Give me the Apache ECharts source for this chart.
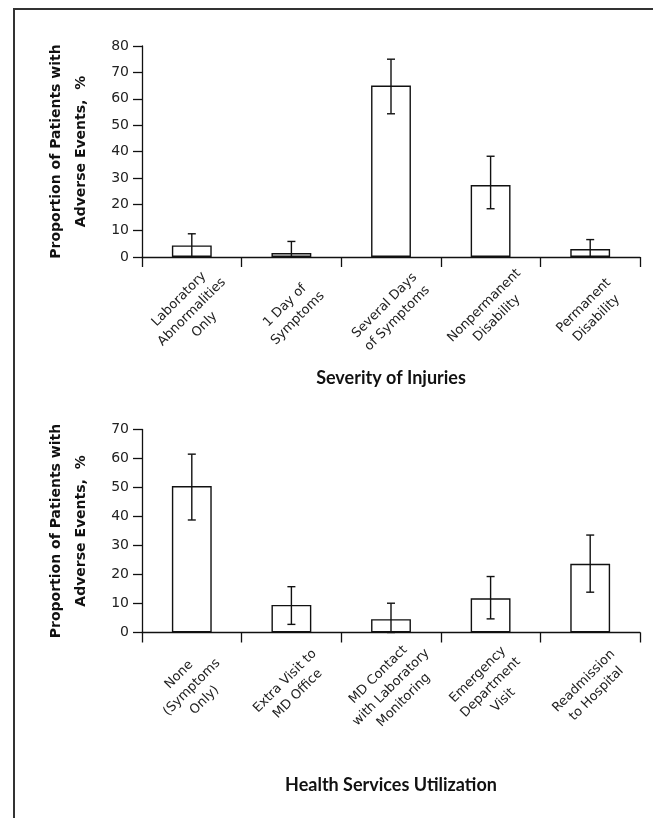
<!DOCTYPE html>
<html>
<head>
<meta charset="utf-8">
<script src="https://cdn.jsdelivr.net/npm/echarts@6/dist/echarts.min.js"></script>
<style>
html,body{margin:0;padding:0;background:#fff;}
#c{width:655px;height:818px;}
</style>
</head>
<body>
<div id="c"></div>
<script>
// Top panel: Severity of Injuries
const severityCategories = ["Laboratory\nAbnormalities\nOnly", "1 Day of\nSymptoms", "Several Days\nof Symptoms", "Nonpermanent\nDisability", "Permanent\nDisability"];
const severityValues = [4.4, 1.5, 65, 27.3, 3.0];
const severityLow = [0, 0, 54.3, 18.3, 0];
const severityHigh = [8.8, 5.9, 75, 38.2, 6.6];
const severityTicks = { min: 0, max: 80, interval: 10 };

// Bottom panel: Health Services Utilization
const healthCategories = ["None\n(Symptoms\nOnly)", "Extra Visit to\nMD Office", "MD Contact\nwith Laboratory\nMonitoring", "Emergency\nDepartment\nVisit", "Readmission\nto Hospital"];
const healthValues = [50.5, 9.5, 4.6, 11.8, 23.7];
const healthLow = [38.8, 2.8, 0, 4.7, 13.9];
const healthHigh = [61.5, 15.8, 10.1, 19.3, 33.6];
const healthTicks = { min: 0, max: 70, interval: 10 };

const yTitle = "Proportion of Patients with\nAdverse Events,  %";

const ink = '#111';

function xAxisCfg(gridIndex, cats, name, nameGap) {
  return {
    type: 'category', gridIndex: gridIndex, data: cats,
    name: name, nameLocation: 'middle', nameGap: nameGap, nameMoveOverlap: false,
    nameTextStyle: { fontFamily: 'Lato', fontWeight: 'bold', fontSize: 18, color: ink },
    axisLine: { lineStyle: { color: ink, width: 1.3 } },
    axisTick: { show: true, length: 10, lineStyle: { color: ink, width: 1.3 } },
    axisLabel: {
      rotate: 45, align: 'center', verticalAlign: 'middle', margin: 55,
      fontFamily: 'DejaVu Sans', fontSize: 13, lineHeight: 18, color: '#222',
      interval: 0
    },
    splitLine: { show: false }
  };
}
function yAxisCfg(gridIndex, t) {
  return {
    type: 'value', gridIndex: gridIndex, min: t.min, max: t.max, interval: t.interval,
    name: yTitle, nameLocation: 'middle', nameRotate: 90, nameGap: 48, nameMoveOverlap: false,
    nameTextStyle: { fontFamily: 'DejaVu Sans', fontWeight: 'bold', fontSize: 14, lineHeight: 25, color: ink },
    axisLine: { show: true, lineStyle: { color: ink, width: 1.3 } },
    axisTick: { show: true, length: 9, lineStyle: { color: ink, width: 1.3 } },
    axisLabel: { fontFamily: 'DejaVu Sans', fontSize: 14, color: '#222', margin: 13 },
    splitLine: { show: false }
  };
}
function errData(low, high) {
  return low.map((l, i) => [i, l, high[i]]);
}
function errSeries(idx, low, high) {
  return {
    type: 'custom', xAxisIndex: idx, yAxisIndex: idx,
    data: errData(low, high),
    encode: { x: 0, y: [1, 2] },
    z: 5,
    renderItem: function (params, api) {
      const x = api.value(0);
      const lo = api.coord([x, api.value(1)]);
      const hi = api.coord([x, api.value(2)]);
      const cap = 4;
      const style = { stroke: ink, lineWidth: 1.4 };
      return {
        type: 'group', children: [
          { type: 'line', shape: { x1: hi[0], y1: hi[1], x2: lo[0], y2: lo[1] }, style: style },
          { type: 'line', shape: { x1: hi[0] - cap, y1: hi[1], x2: hi[0] + cap, y2: hi[1] }, style: style },
          { type: 'line', shape: { x1: lo[0] - cap, y1: lo[1], x2: lo[0] + cap, y2: lo[1] }, style: style }
        ]
      };
    }
  };
}
function barSeries(idx, vals) {
  return {
    type: 'bar', xAxisIndex: idx, yAxisIndex: idx, data: vals, barWidth: '40%',
    itemStyle: { color: '#fff', borderColor: ink, borderWidth: 1.4 },
    silent: true
  };
}

const chart = echarts.init(document.getElementById('c'), null, { renderer: 'canvas' });
chart.setOption({
  animation: false,
  backgroundColor: '#fff',
  grid: [
    { left: 142, right: 15, top: 46, height: 211, outerBoundsMode: 'none' },
    { left: 142, right: 15, top: 429.5, height: 203, outerBoundsMode: 'none' }
  ],
  xAxis: [
    xAxisCfg(0, severityCategories, 'Severity of Injuries', 112),
    xAxisCfg(1, healthCategories, 'Health Services Utilization', 144)
  ],
  yAxis: [yAxisCfg(0, severityTicks), yAxisCfg(1, healthTicks)],
  series: [
    barSeries(0, severityValues), errSeries(0, severityLow, severityHigh),
    barSeries(1, healthValues), errSeries(1, healthLow, healthHigh)
  ],
  graphic: [
    { type: 'polyline', shape: { points: [[653, 9], [14, 9], [14, 818]] }, style: { stroke: '#333', lineWidth: 2, fill: null } }
  ]
});
</script>
</body>
</html>
